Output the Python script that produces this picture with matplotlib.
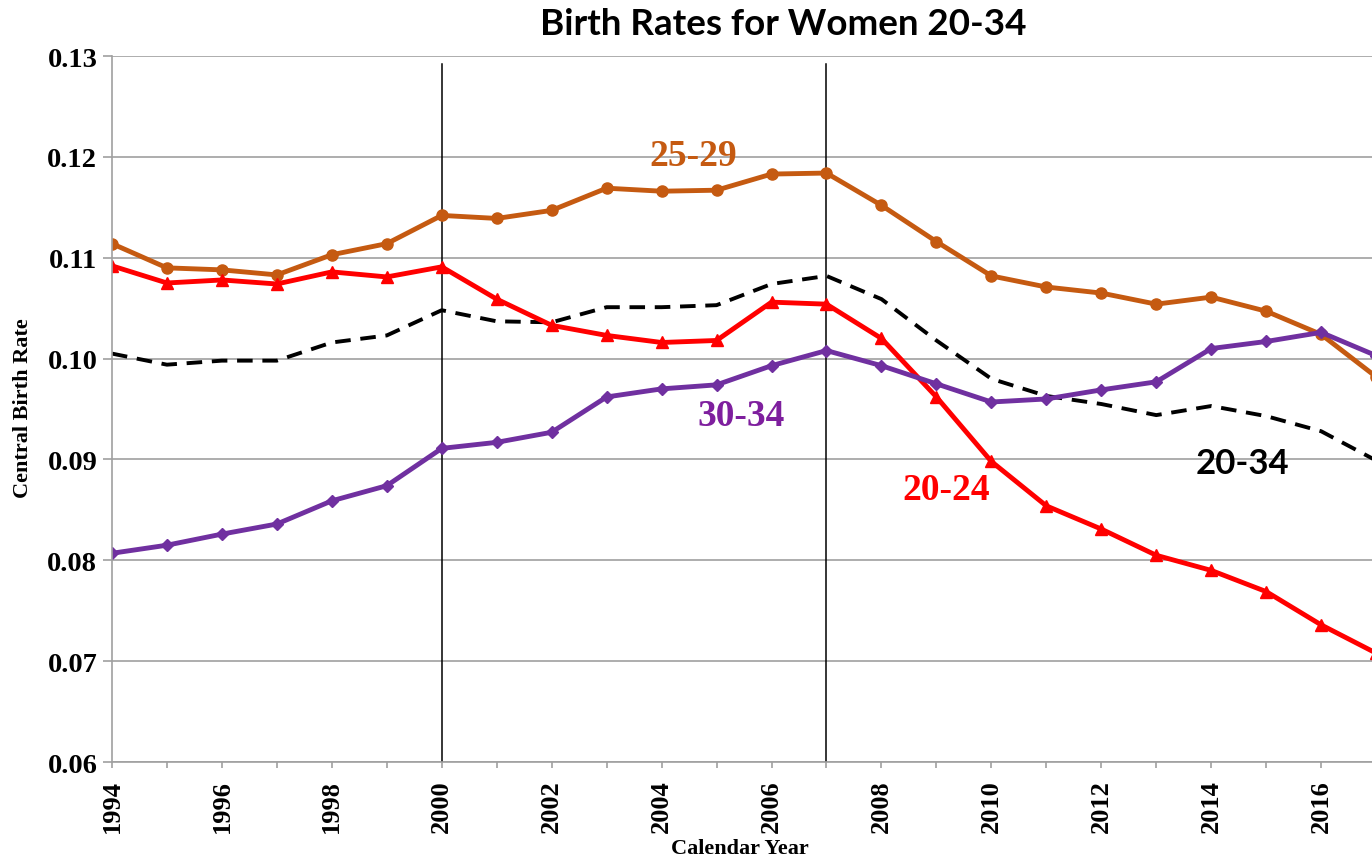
import matplotlib
matplotlib.use('Agg')
import matplotlib.pyplot as plt

### DATA ###
years = list(range(1994, 2018))
rate_20_24 = [0.1092, 0.1075, 0.1078, 0.1074, 0.1086, 0.1081, 0.1091, 0.1059, 0.1033, 0.1023, 0.1016, 0.1018,
              0.1056, 0.1054, 0.1020, 0.0962, 0.0898, 0.0854, 0.0831, 0.0805, 0.0790, 0.0769, 0.0736, 0.0708]
rate_25_29 = [0.1114, 0.1090, 0.1088, 0.1083, 0.1103, 0.1114, 0.1142, 0.1139, 0.1147, 0.1169, 0.1166, 0.1167,
              0.1183, 0.1184, 0.1152, 0.1116, 0.1082, 0.1071, 0.1065, 0.1054, 0.1061, 0.1047, 0.1024, 0.0982]
rate_30_34 = [0.0807, 0.0815, 0.0826, 0.0836, 0.0859, 0.0874, 0.0911, 0.0917, 0.0927, 0.0962, 0.0970, 0.0974,
              0.0993, 0.1008, 0.0993, 0.0975, 0.0957, 0.0960, 0.0969, 0.0977, 0.1010, 0.1017, 0.1026, 0.1003]
rate_20_34 = [0.1005, 0.0994, 0.0998, 0.0998, 0.1016, 0.1023, 0.1048, 0.1037, 0.1036, 0.1051, 0.1051, 0.1053,
              0.1074, 0.1082, 0.1059, 0.1018, 0.0980, 0.0963, 0.0955, 0.0944, 0.0953, 0.0943, 0.0928, 0.0899]
marker_years = [2000, 2007]
y_ticks = [0.06, 0.07, 0.08, 0.09, 0.10, 0.11, 0.12, 0.13]
y_tick_labels = ['0.06', '0.07', '0.08', '0.09', '0.10', '0.11', '0.12', '0.13']
x_label_years = list(range(1994, 2017, 2))

serif = 'Liberation Serif'
sans = 'Lato'

fig = plt.figure(figsize=(13.72, 8.62), dpi=100)
ax = fig.add_axes([0.0816, 0.1148, 0.9214, 0.819])

ax.set_axisbelow(True)
ax.grid(axis='y', color='#a0a0a0', linewidth=1.2)

for yr in marker_years:
    ax.axvline(yr, ymin=0, ymax=0.989, color='black', linewidth=1.1)

ax.plot(years, rate_20_34, color='black', linewidth=2.8, linestyle=(0, (4, 2.5)))
ax.plot(years, rate_25_29, color='#c55a11', linewidth=3.5, marker='o', markersize=8)
ax.plot(years, rate_20_24, color='#ff0000', linewidth=3.5, marker='^', markersize=9)
ax.plot(years, rate_30_34, color='#7030a0', linewidth=3.5, marker='D', markersize=6)

### series labels
ax.text(2004.57, 0.1201, '25-29', color='#c55a11', fontsize=27, fontweight='bold', family=serif, ha='center', va='center')
ax.text(2005.45, 0.0944, '30-34', color='#7e1f9e', fontsize=27, fontweight='bold', family=serif, ha='center', va='center')
ax.text(2009.18, 0.0870, '20-24', color='#ff0000', fontsize=27, fontweight='bold', family=serif, ha='center', va='center')
ax.text(2014.56, 0.0897, '20-34', color='black', fontsize=25, fontweight='bold', family=sans, ha='center', va='center')

### axes
ax.set_xlim(1994, 2017)
ax.set_ylim(0.06, 0.13)
ax.set_xticks(years)
ax.set_xticklabels([str(y) if y in x_label_years else '' for y in years])
ax.set_yticks(y_ticks)
ax.set_yticklabels(y_tick_labels)
for lab in ax.get_xticklabels():
    lab.set_rotation(90)
    lab.set_fontsize(19)
    lab.set_fontweight('bold')
    lab.set_family(serif)
for lab in ax.get_yticklabels():
    lab.set_fontsize(20.5)
    lab.set_fontweight('bold')
    lab.set_family(serif)
ax.tick_params(axis='y', direction='out', length=6.5, width=1.2, color='#a0a0a0', pad=4)
ax.tick_params(axis='x', direction='out', length=4, width=1.2, color='#a0a0a0', pad=8.5)

for side in ['top', 'right']:
    ax.spines[side].set_visible(False)
for side in ['left', 'bottom']:
    ax.spines[side].set_color('#a0a0a0')
    ax.spines[side].set_linewidth(1.2)

fig.text(0.571, 0.971, 'Birth Rates for Women 20-34', fontsize=26.5, fontweight='bold', family=sans, ha='center', va='center')
fig.text(0.017, 0.527, 'Central Birth Rate', fontsize=16, fontweight='bold', family=serif, rotation=90, ha='center', va='center')
fig.text(0.539, 0.015, 'Calendar Year', fontsize=16, fontweight='bold', family=serif, ha='center', va='center')

plt.savefig('out.png', dpi=100)
